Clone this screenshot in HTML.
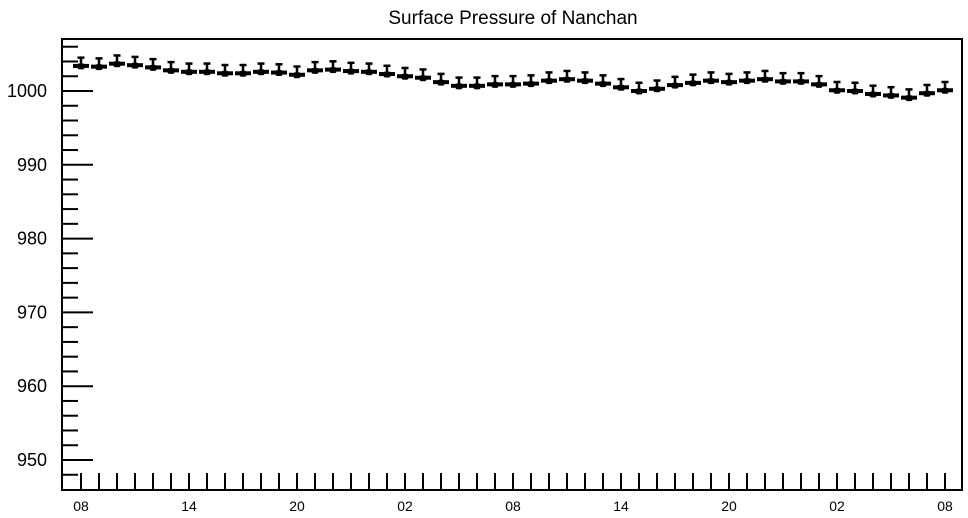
<!DOCTYPE html>
<html><head><meta charset="utf-8"><style>
html,body{margin:0;padding:0;background:#fff;width:968px;height:518px;overflow:hidden}
svg text{font-family:"Liberation Sans",Arial,sans-serif;fill:#000}
</style></head><body>
<svg id="s" width="968" height="518" xmlns="http://www.w3.org/2000/svg">
<text x="513" y="24" font-size="19" text-anchor="middle">Surface Pressure of Nanchan</text>
<rect x="62" y="39" width="900" height="451" fill="none" stroke="#000" stroke-width="2"/>
<g id="g"></g>
</svg>
<script>
var g=document.getElementById('g'),h='';
function Y(v){return 91+(1000-v)*7.38;}
for(var v=946;v<=1006;v+=2){var y=Y(v);if(y<40||y>489)continue;var major=(v%10==0);
h+='<line x1="62" x2="'+(major?93:78)+'" y1="'+y+'" y2="'+y+'" stroke="#000" stroke-width="2"/>';
if(major)h+='<text x="47" y="'+(y+6)+'" font-size="18" text-anchor="end">'+v+'</text>';}
var labs=['08','14','20','02','08','14','20','02','08'];
for(var i=0;i<49;i++){var x=81+i*18;
h+='<line x1="'+x+'" x2="'+x+'" y1="473" y2="490" stroke="#000" stroke-width="2"/>';
if(i%6==0)h+='<text x="'+x+'" y="511" font-size="14" text-anchor="middle">'+labs[i/6]+'</text>';}
var d=[1003.4,1003.3,1003.7,1003.5,1003.2,1002.8,1002.6,1002.6,1002.4,1002.4,1002.6,1002.5,1002.2,1002.8,1002.9,1002.7,1002.6,1002.3,1002.0,1001.8,1001.2,1000.7,1000.7,1000.9,1000.9,1001.0,1001.4,1001.6,1001.4,1001.0,1000.5,1000.0,1000.3,1000.8,1001.1,1001.4,1001.2,1001.4,1001.6,1001.3,1001.3,1000.9,1000.1,1000.0,999.6,999.4,999.1,999.7,1000.1];
for(var i=0;i<49;i++){var x=81+i*18,y=Y(d[i]);
h+='<rect x="'+(x-8)+'" y="'+(y-2)+'" width="16" height="4"/>';
h+='<rect x="'+(x-3.5)+'" y="'+(y-2.5)+'" width="7" height="6" rx="2"/>';
h+='<rect x="'+(x-1.25)+'" y="'+(y-8)+'" width="2.5" height="8"/>';
h+='<rect x="'+(x-3.5)+'" y="'+(y-9.5)+'" width="7" height="2.5"/>';}
g.innerHTML=h;
</script>
</body></html>
